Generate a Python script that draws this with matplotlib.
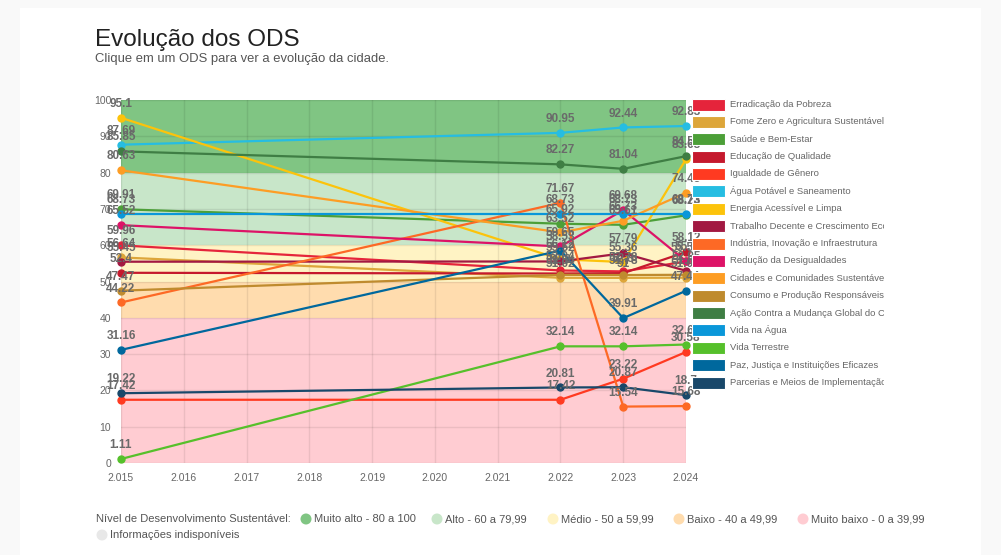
import matplotlib.pyplot as plt
import numpy as np

plt.rcParams['font.family'] = ['Liberation Sans', 'DejaVu Sans']

years = [2015, 2022, 2023, 2024]

ods_names = [
    'Erradicação da Pobreza',
    'Fome Zero e Agricultura Sustentável',
    'Saúde e Bem-Estar',
    'Educação de Qualidade',
    'Igualdade de Gênero',
    'Água Potável e Saneamento',
    'Energia Acessível e Limpa',
    'Trabalho Decente e Crescimento Econômico',
    'Indústria, Inovação e Infraestrutura',
    'Redução da Desigualdades',
    'Cidades e Comunidades Sustentáveis',
    'Consumo e Produção Responsáveis',
    'Ação Contra a Mudança Global do Clima',
    'Vida na Água',
    'Vida Terrestre',
    'Paz, Justiça e Instituições Eficazes',
    'Parcerias e Meios de Implementação',
]

ods_colors = [
    '#e5243b', '#dda63a', '#4c9f38', '#c5192d', '#ff3a21', '#26bde2',
    '#fcc30b', '#a21942', '#fd6925', '#dd1367', '#fd9d24', '#bf8b2e',
    '#3f7e44', '#0a97d9', '#56c02b', '#00689d', '#19486a',
]

ods_values = [
    [59.96, 53.04, 52.78, 55.51],   # 1
    [56.64, 51.02, 51.00, 51.05],   # 2
    [69.91, 65.92, 65.61, 68.23],   # 3
    [52.40, 52.20, 52.30, 58.12],   # 4
    [17.42, 17.42, 23.22, 30.58],   # 5
    [87.69, 90.95, 92.44, 92.83],   # 6
    [95.10, 56.12, 55.36, 83.68],   # 7
    [55.45, 55.52, 57.79, 52.95],   # 8
    [44.22, 71.67, 15.54, 15.68],   # 9
    [65.52, 59.65, 69.68, 55.60],   # 10
    [80.63, 63.52, 66.73, 74.45],   # 11
    [47.47, 51.84, 51.78, 51.85],   # 12
    [85.85, 82.27, 81.04, 84.53],   # 13
    [68.73, 68.73, 68.73, 68.73],   # 14
    [1.11, 32.14, 32.14, 32.64],    # 15
    [31.16, 58.53, 39.91, 47.44],   # 16
    [19.22, 20.81, 20.87, 18.70],   # 17
]

band_edges = [0, 40, 50, 60, 80, 100]
band_colors = ['#ffccd2', '#ffdcae', '#fff3c4', '#c8e6c9', '#80c583']

level_title = 'Nível de Desenvolvimento Sustentável:'
level_labels = ['Muito alto - 80 a 100', 'Alto - 60 a 79,99', 'Médio - 50 a 59,99',
                'Baixo - 40 a 49,99', 'Muito baixo - 0 a 39,99', 'Informações indisponíveis']
level_colors = ['#80c583', '#c8e6c9', '#fff3c4', '#ffdcae', '#ffccd2', '#e8e8e8']

W, H = 1001, 555
fig = plt.figure(figsize=(W / 100, H / 100), dpi=100)
fig.patch.set_facecolor('#f9f9f9')

# pixel overlay for the card, titles and the bottom legend
pax = fig.add_axes([0, 0, 1, 1], zorder=0)
pax.set_xlim(0, W)
pax.set_ylim(H, 0)
pax.axis('off')
pax.add_patch(plt.Rectangle((20, 8), 961, 547, facecolor='white', edgecolor='none'))


def fx(px):
    return px / W


def fy(py):
    return 1 - py / H


ax = fig.add_axes([fx(121), fy(463), fx(686) - fx(121), fy(100) - fy(463)], zorder=2)
ax.set_xlim(2015, 2024)
ax.set_ylim(0, 100)

for i in range(len(band_colors)):
    ax.axhspan(band_edges[i], band_edges[i + 1], color=band_colors[i], zorder=0, lw=0)

ax.set_xticks(range(2015, 2025))
ax.set_xticklabels(['{:,}'.format(y).replace(',', '.') for y in range(2015, 2025)])
ax.set_yticks(range(0, 101, 10))
ax.grid(True, color='#000000', alpha=0.08, lw=1, zorder=1)
ax.tick_params(colors='#666666', labelsize=7.5, length=0, pad=7)
for s in ax.spines.values():
    s.set_visible(False)

for vals, col in zip(ods_values, ods_colors):
    ax.plot(years, vals, color=col, lw=1.6, marker='o', ms=5, zorder=3, clip_on=False)
for vals in ods_values:
    for x, v in zip(years, vals):
        ax.annotate('{:g}'.format(v), (x, v), xytext=(0, 10), textcoords='offset points',
                    ha='center', va='center', fontsize=8.5, color='#6a6a6a',
                    fontweight='bold', zorder=5, annotation_clip=False)

# right legend, clipped like the original
lax = fig.add_axes([fx(690), fy(395), fx(884) - fx(690), fy(95) - fy(395)], zorder=3)
lax.set_xlim(690, 884)
lax.set_ylim(395, 95)
lax.axis('off')
for i, (name, col) in enumerate(zip(ods_names, ods_colors)):
    yy = 104.5 + i * 17.375
    lax.add_patch(plt.Rectangle((692, yy - 6), 33, 12, facecolor=col, edgecolor='white', lw=0.8))
    lax.text(730, yy, name, fontsize=6.8, color='#666666', va='center', ha='left', clip_on=True)

pax.text(95, 40, 'Evolução dos ODS', fontsize=17.5, color='#222222', va='center')
pax.text(95, 59, 'Clique em um ODS para ver a evolução da cidade.', fontsize=9.4,
         color='#555555', va='center')

# bottom legend
pax.text(96, 519, level_title, fontsize=8, color='#555555', va='center')
xpos = [306, 437, 553, 679, 803, 102]
ypos = [519, 519, 519, 519, 519, 535]
for lbl, col, xp, yp in zip(level_labels, level_colors, xpos, ypos):
    pax.add_patch(plt.Circle((xp, yp), 5.5, facecolor=col, edgecolor='none'))
    pax.text(xp + 8, yp, lbl, fontsize=8, color='#555555', va='center')

fig.savefig('out.png', dpi=100, facecolor=fig.get_facecolor())
